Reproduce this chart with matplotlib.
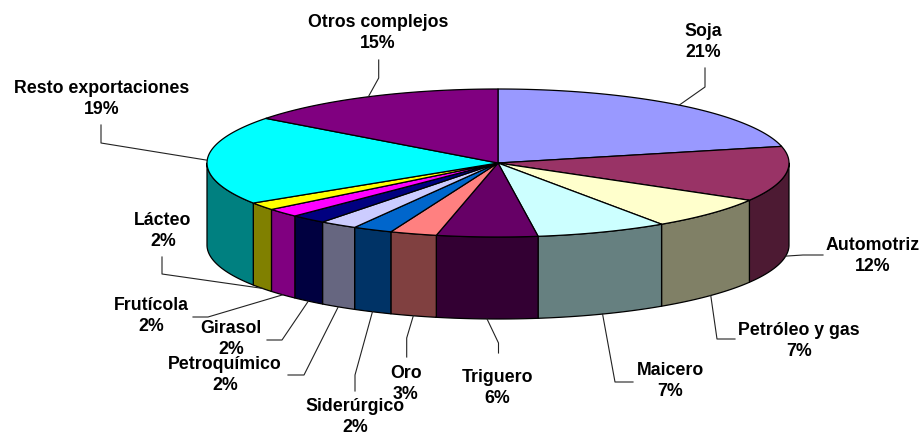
import numpy as np
import matplotlib
matplotlib.use("Agg")
import matplotlib.pyplot as plt
from matplotlib.patches import Polygon
from matplotlib.colors import to_rgb

# ---- data (shares, clockwise from 12 o'clock) ----
categories = ["Soja", "Automotriz", "Petróleo y gas", "Maicero", "Triguero", "Oro",
              "Siderúrgico", "Petroquímico", "Girasol", "Frutícola", "Lácteo",
              "Resto exportaciones", "Otros complejos"]
shares = [21.4, 12.0, 7.1, 7.3, 5.6, 2.6, 2.2, 2.1, 2.0, 1.9, 1.7, 19.4, 14.7]
top_colors = ["#9999FF", "#993366", "#FFFFCC", "#CCFFFF", "#660066", "#FF8080",
              "#0066CC", "#CCCCFF", "#000080", "#FF00FF", "#FFFF00", "#00FFFF", "#800080"]

# ---- layout (pixel coordinates of the 924x437 canvas) ----
CX, CY, RA, RB, DEPTH = 498, 163, 291, 74, 82
label_layout = {
    "Soja": (703, 42, [(705, 68), (705, 87)]),
    "Automotriz": (873, 256, [(823, 255), (803, 255)]),
    "Petróleo y gas": (799, 341, [(735, 339), (717, 339)]),
    "Maicero": (670, 381, [(633, 382), (615, 382)]),
    "Triguero": (497, 388, [(498.5, 353), (498.5, 343)]),
    "Oro": (406, 384, [(406.7, 357), (406.7, 338)]),
    "Siderúrgico": (355, 417, [(355, 391), (355, 375)]),
    "Petroquímico": (225, 375, [(288, 375), (304, 375)]),
    "Girasol": (231, 339, [(267, 340), (282, 340)]),
    "Frutícola": (151, 316, [(193, 317), (208, 317)]),
    "Lácteo": (163, 231, [(162, 257), (162, 274)]),
    "Resto exportaciones": (102, 99, [(101, 125), (101, 143)]),
    "Otros complejos": (378, 33, [(378.7, 60), (378.7, 78)]),
}

fig = plt.figure(figsize=(9.24, 4.37), dpi=100)
ax = fig.add_axes([0, 0, 1, 1])
ax.set_xlim(0, 924)
ax.set_ylim(437, 0)
ax.axis("off")


def rim(theta_deg, drop=0.0):
    t = np.radians(theta_deg)
    return CX + RA * np.sin(t), CY - RB * np.cos(t) + drop


total = sum(shares)
bounds = np.concatenate([[0], np.cumsum(shares)]) / total * 360.0

# side walls (front half only: 90..270 deg)
for i, col in enumerate(top_colors):
    t0, t1 = max(bounds[i], 90), min(bounds[i + 1], 270)
    if t1 <= t0:
        continue
    th = np.linspace(t0, t1, 80)
    xt, yt = rim(th)
    xb, yb = rim(th[::-1], DEPTH)
    pts = np.column_stack([np.concatenate([xt, xb]), np.concatenate([yt, yb])])
    wall = tuple(0.5 * c for c in to_rgb(col))
    ax.add_patch(Polygon(pts, closed=True, facecolor=wall, edgecolor="black",
                         linewidth=0.9, joinstyle="round", zorder=2))

# top faces
for i, col in enumerate(top_colors):
    th = np.linspace(bounds[i], bounds[i + 1], 120)
    xs, ys = rim(th)
    pts = np.column_stack([np.concatenate([[CX], xs]), np.concatenate([[CY], ys])])
    ax.add_patch(Polygon(pts, closed=True, facecolor=col, edgecolor="black",
                         linewidth=0.9, joinstyle="round", zorder=3))

# labels and leader lines
for i, name in enumerate(categories):
    tx, ty, elbow = label_layout[name]
    mid = (bounds[i] + bounds[i + 1]) / 2
    drop = DEPTH if 90 < mid < 270 else 0.0
    ax_, ay_ = rim(mid, drop)
    xs = [p[0] for p in elbow] + [ax_]
    ys = [p[1] for p in elbow] + [ay_]
    ax.plot(xs, ys, color="#222222", linewidth=0.8, zorder=4)
    ax.text(tx, ty, f"{name}\n{round(shares[i])}%", ha="center", va="center",
            fontsize=12.8, fontweight="bold", family=["Liberation Sans", "DejaVu Sans"],
            linespacing=1.28, color="black", zorder=5)

fig.savefig("out.png", dpi=100, facecolor="white")
